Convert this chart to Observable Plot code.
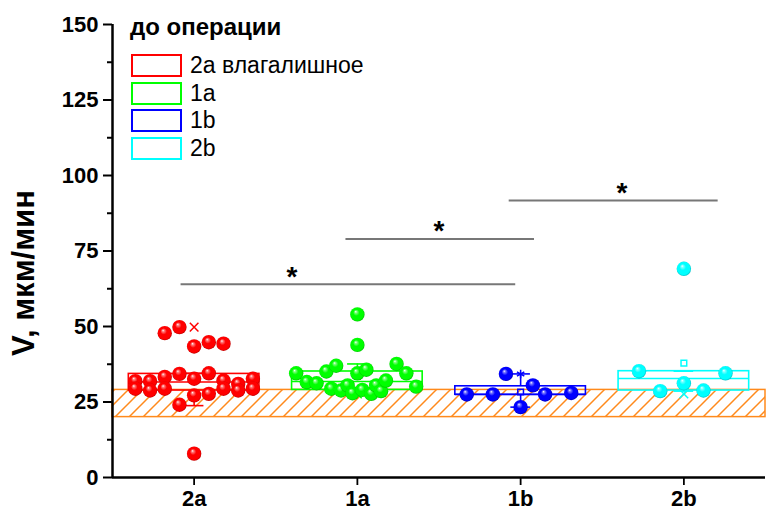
<!DOCTYPE html>
<html><head><meta charset="utf-8">
<script src="https://cdn.jsdelivr.net/npm/d3@7"></script>
<script src="https://cdn.jsdelivr.net/npm/@observablehq/plot@0.6"></script>
<style>
body{margin:0;background:#fff;font-family:"Liberation Sans",Arial,sans-serif;}
#wrap{position:relative;width:776px;height:513px;}
#wrap svg{position:absolute;left:0;top:0;}
.lg-title{position:absolute;left:130px;top:13px;font-size:24px;font-weight:bold;line-height:28px;white-space:nowrap;}
.lg-sw{position:absolute;left:131px;width:51px;height:23px;box-sizing:border-box;border:2px solid;background:#fff;}
.lg-tx{position:absolute;left:190px;font-size:23px;line-height:23px;white-space:nowrap;}
</style></head><body><div id="wrap"></div>
<script>
// ---- data ----
const groups = ["2a", "1a", "1b", "2b"];
const colors = ["#ff0000", "#00ff00", "#0000ff", "#00ffff"];
const darkColors = ["#a00000", "#00a000", "#000090", "#00a0a8"];
const legendTitle = "до операции";
const legendLabels = ["2a влагалишное", "1a", "1b", "2b"];
const yLabel = "V, мкм/мин";
const yTicks = [0, 25, 50, 75, 100, 125, 150];
const yMinorTicks = [12.5, 37.5, 62.5, 87.5, 112.5, 137.5];
const normRange = [20, 29];

// points: values and horizontal jitter (in category units)
const v2a = [47.8, 49.8, 43.4, 44.8, 44.3, 31.9, 29.4, 31.9, 28.8, 33.3, 29.4, 34.3, 24.1, 32.7, 27.2, 34.5, 27.7, 32.1, 29.4, 31.0, 28.8, 32.7, 29.4, 7.9];
const j2a = [-0.18, -0.09, 0, 0.09, 0.18, -0.36, -0.36, -0.27, -0.27, -0.18, -0.18, -0.09, -0.09, 0, 0, 0.09, 0.09, 0.18, 0.18, 0.27, 0.27, 0.36, 0.36, 0];
const v1a = [54.0, 43.9, 34.5, 31.6, 31.2, 35.1, 37.0, 29.4, 28.8, 30.5, 27.9, 34.5, 29.0, 35.7, 27.7, 30.5, 28.6, 32.1, 37.6, 34.5, 30.1];
const j1a = [0, 0, -0.375, -0.31, -0.25, -0.19, -0.13, -0.16, -0.1, -0.06, -0.03, 0, 0.03, 0.055, 0.085, 0.115, 0.145, 0.175, 0.24, 0.30, 0.36];
const v1b = [34.3, 30.5, 27.5, 27.5, 27.5, 28.0, 23.3];
const j1b = [-0.09, 0.075, -0.33, -0.17, 0.15, 0.31, 0];
const v2b = [69.1, 35.2, 34.5, 31.2, 28.6, 28.8];
const j2b = [0, -0.275, 0.255, 0, -0.145, 0.12];

// box statistics per group
const q1 = [28.8, 29.0, 27.4, 28.8];
const median = [31.6, 31.8, 27.5, 32.8];
const q3 = [34.3, 35.1, 30.2, 35.2];
const whiskerLow = [23.8, 27.9, 23.3, 28.6];
const whiskerHigh = [34.5, 37.6, 34.3, 35.2];
const means = [32.7, 33.5, 28.3, 37.9];
const mins = [7.9, 27.7, 23.3, 27.7];
const maxs = [49.8, 54.0, 34.3, 69.1];
const maxSymbols = ["times", "times", "asterisk", "times"];

// significance brackets
const sigFrom = [-0.08, 0.93, 1.93];
const sigTo = [1.97, 2.085, 3.21];
const sigLevel = [64, 79, 91.7];
const sigStarX = [0.6, 1.5, 2.62];
const sigLabel = ["*", "*", "*"];

// ---- build tables ----
const values = [v2a, v1a, v1b, v2b];
const jitters = [j2a, j1a, j1b, j2b];
const points = values.map((vs, g) => vs.map((v, i) => ({g, x: g + jitters[g][i], v})));
const stats = groups.map((name, g) => ({g, name, q1: q1[g], med: median[g], q3: q3[g], lo: whiskerLow[g], hi: whiskerHigh[g], mean: means[g], min: mins[g], max: maxs[g], sym: maxSymbols[g], color: colors[g]}));
const sig = sigFrom.map((a, i) => ({a, b: sigTo[i], y: sigLevel[i], sx: sigStarX[i], label: sigLabel[i]}));
const orange = "#ff8a1c";
const half = 0.4, cap = 0.06;

const marks = [
  Plot.rect([normRange], {x1: -0.5, x2: 3.5, y1: d => d[0], y2: d => d[1], fill: "url(#hatch)", stroke: orange, strokeWidth: 1.5}),
  Plot.ruleY(sig, {x1: "a", x2: "b", y: "y", stroke: "#777", strokeWidth: 2}),
  Plot.text(sig, {x: "sx", y: d => d.y + 2.5, text: "label", fontSize: 28, fontWeight: "bold", fill: "#000"}),
];
stats.forEach(s => {
  const c = s.color;
  marks.push(
    Plot.rect([s], {x1: d => d.g - half, x2: d => d.g + half, y1: "q1", y2: "q3", fill: "none", stroke: c, strokeWidth: 1.6}),
    Plot.ruleY([s], {x1: d => d.g - half, x2: d => d.g + half, y: "med", stroke: c, strokeWidth: 1.6}),
    Plot.ruleX([s], {x: "g", y1: "q3", y2: "hi", stroke: c, strokeWidth: 1.6}),
    Plot.ruleX([s], {x: "g", y1: "q1", y2: "lo", stroke: c, strokeWidth: 1.6}),
    Plot.ruleY([s], {x1: d => d.g - cap, x2: d => d.g + cap, y: "hi", stroke: c, strokeWidth: 1.6}),
    Plot.ruleY([s], {x1: d => d.g - cap, x2: d => d.g + cap, y: "lo", stroke: c, strokeWidth: 1.6}),
    Plot.dot([s], {x: "g", y: "mean", symbol: "square", r: 3.2, stroke: c, fill: "none", strokeWidth: 1.5}),
    Plot.dot([s], {x: "g", y: "max", symbol: s.sym, r: 4, stroke: c, strokeWidth: 1.5}),
    Plot.dot([s], {x: "g", y: "min", symbol: "times", r: 4, stroke: c, strokeWidth: 1.5})
  );
});
points.forEach((pts, g) => {
  marks.push(Plot.dot(pts, {x: "x", y: "v", r: 7.2, fill: `url(#ball${g})`, stroke: "none"}));
});
marks.push(
  Plot.ruleX([-0.5], {stroke: "#000", strokeWidth: 2.5}),
  Plot.ruleY([0], {stroke: "#000", strokeWidth: 2.5}),
  Plot.axisY(yTicks, {tickSize: 9, tickPadding: 5, fontSize: 22, fontWeight: "bold", label: null, strokeWidth: 2}),
  Plot.axisY(yMinorTicks, {tickSize: 5, tickFormat: () => "", label: null, strokeWidth: 2}),
  Plot.axisX([0, 1, 2, 3], {tickSize: 8, tickPadding: 5, tickFormat: i => groups[i], fontSize: 22, fontWeight: "bold", label: null, strokeWidth: 1.8}),
  Plot.text([yLabel], {frameAnchor: "left", textAnchor: "middle", rotate: -90, dx: -88, dy: 22, fontSize: 31, fontWeight: "bold", fill: "#000"})
);

const chart = Plot.plot({
  width: 776, height: 513,
  marginLeft: 112, marginRight: 11, marginTop: 24, marginBottom: 36,
  x: {domain: [-0.5, 3.5]},
  y: {domain: [0, 150]},
  style: {fontFamily: "'Liberation Sans', Arial, sans-serif", background: "#fff", color: "#000"},
  marks
});

// defs: sphere gradients + hatch pattern
const svg = d3.select(chart);
const defs = svg.insert("defs", ":first-child");
colors.forEach((c, g) => {
  const rg = defs.append("radialGradient").attr("id", `ball${g}`)
    .attr("cx", "50%").attr("cy", "50%").attr("r", "55%").attr("fx", "38%").attr("fy", "30%");
  const light = d3.interpolateRgb(c, "#ffffff")(0.5);
  rg.append("stop").attr("offset", "0%").attr("stop-color", "#ffffff");
  rg.append("stop").attr("offset", "14%").attr("stop-color", light);
  rg.append("stop").attr("offset", "40%").attr("stop-color", c);
  rg.append("stop").attr("offset", "80%").attr("stop-color", c);
  rg.append("stop").attr("offset", "100%").attr("stop-color", darkColors[g]);
});
const pat = defs.append("pattern").attr("id", "hatch").attr("patternUnits", "userSpaceOnUse")
  .attr("width", 14).attr("height", 14);
pat.append("rect").attr("width", 14).attr("height", 14).attr("fill", "#fff");
pat.append("path").attr("d", "M-2,2 L2,-2 M0,14 L14,0 M12,16 L16,12")
  .attr("stroke", orange).attr("stroke-width", 1.5);

const wrap = document.getElementById("wrap");
wrap.appendChild(chart);

// legend overlay
const t = document.createElement("div");
t.className = "lg-title"; t.textContent = legendTitle; wrap.appendChild(t);
legendLabels.forEach((lab, i) => {
  const top = 54 + i * 27.5;
  const sw = document.createElement("div");
  sw.className = "lg-sw"; sw.style.top = top + "px"; sw.style.borderColor = colors[i];
  wrap.appendChild(sw);
  const tx = document.createElement("div");
  tx.className = "lg-tx"; tx.style.top = top + "px"; tx.textContent = lab;
  wrap.appendChild(tx);
});
</script></body></html>
